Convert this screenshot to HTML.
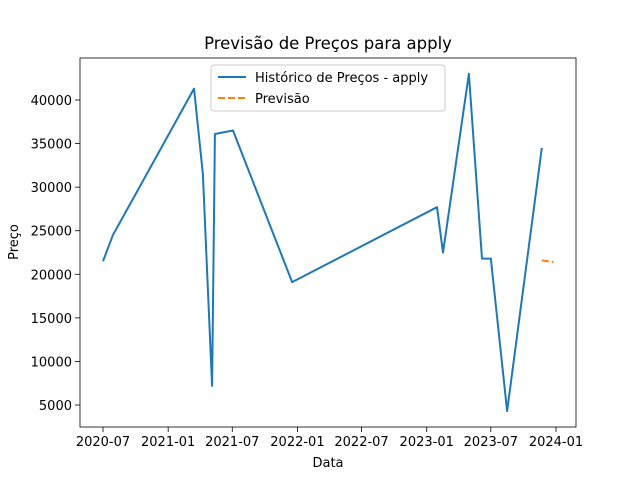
<!DOCTYPE html>
<html><head><meta charset="utf-8"><style>body{margin:0;background:#fff}svg{display:block;font-family:"DejaVu Sans","Liberation Sans",sans-serif}</style></head>
<body>
<svg id="chart" width="640" height="480"></svg>
<script>
const histDates=["2020-07-01","2020-07-29","2021-03-15","2021-04-09","2021-05-05","2021-05-13","2021-07-03","2021-12-17","2023-01-30","2023-02-16","2023-04-30","2023-06-06","2023-07-01","2023-08-16","2023-11-22"];
const histValues=[21500,24500,41300,31500,7200,36100,36500,19100,27700,22500,43000,21800,21800,4300,34500];
const fcDates=["2023-11-22","2023-12-25"];
const fcValues=[21600,21400];
const xTicks=["2020-07","2021-01","2021-07","2022-01","2022-07","2023-01","2023-07","2024-01"];
const yTicks=[5000,10000,15000,20000,25000,30000,35000,40000];
const NS="http://www.w3.org/2000/svg";
const svg=document.getElementById('chart');
const L=80,R=576,T=58,B=427;
const base=Date.UTC(2020,6,1);
function days(s){const p=s.split('-');return (Date.UTC(+p[0],+p[1]-1,p[2]?+p[2]:1)-base)/86400000;}
function xs(s){return 103+days(s)*453/1279;}
function ys(v){return 405-(v-5000)*305/35000;}
function mk(tag,attrs,parent){const e=document.createElementNS(NS,tag);for(const k in attrs)e.setAttribute(k,attrs[k]);(parent||svg).appendChild(e);return e;}
function txt(x,y,s,anchor,size,name){const t=mk('text',{x:x,y:y,'text-anchor':anchor,'font-size':size,fill:'#000'});t.textContent=s;


return t;}
const t=txt(328,49,'Previsão de Preços para apply','middle',16.5,'chart-title');
xTicks.forEach(s=>{const x=xs(s);const l=mk('line',{x1:x,x2:x,y1:B,y2:B+5,stroke:'#000','stroke-width':0.8});


txt(x,446,s,'middle',13,'x-tick-label');});
yTicks.forEach(v=>{const y=ys(v);const l=mk('line',{x1:L-5,x2:L,y1:y,y2:y,stroke:'#000','stroke-width':0.8});


txt(L-8,y+5,String(v),'end',13,'y-tick-label');});
txt(328,467,'Data','middle',13,'x-axis-title');
const yt=txt(0,0,'Preço','middle',13,'y-axis-title');yt.setAttribute('transform','translate(18,242) rotate(-90)');
const hp=mk('polyline',{points:histDates.map((d,i)=>xs(d)+','+ys(histValues[i])).join(' '),fill:'none',stroke:'#1f77b4','stroke-width':2,'stroke-linejoin':'round'});


const fp=mk('polyline',{points:fcDates.map((d,i)=>xs(d)+','+ys(fcValues[i])).join(' '),fill:'none',stroke:'#ff7f0e','stroke-width':2,'stroke-dasharray':'7,3'});


const fr=mk('rect',{x:L,y:T,width:R-L,height:B-T,fill:'none',stroke:'#000','stroke-width':0.8});


const lg=mk('g',{});


mk('rect',{x:211,y:65,width:234,height:46,rx:3,fill:'#fff','fill-opacity':0.8,stroke:'#ccc'},lg);
mk('line',{x1:218,x2:246,y1:77,y2:77,stroke:'#1f77b4','stroke-width':2},lg);
mk('line',{x1:218,x2:246,y1:98,y2:98,stroke:'#ff7f0e','stroke-width':2,'stroke-dasharray':'7,3'},lg);
const a=txt(255,82,'Histórico de Preços - apply','start',13,'legend-entry-history');lg.appendChild(a);
const b=txt(255,103,'Previsão','start',13,'legend-entry-forecast');lg.appendChild(b);
</script>
</body></html>
